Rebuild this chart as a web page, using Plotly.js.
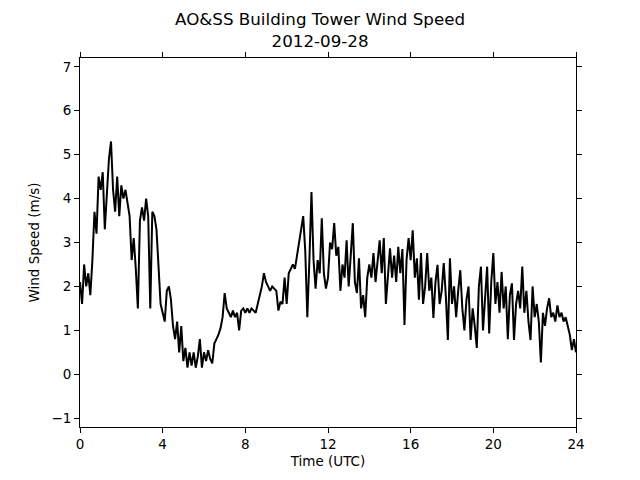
<!DOCTYPE html>
<html>
<head>
<meta charset="utf-8">
<script src="https://cdn.plot.ly/plotly-3.0.1.min.js"></script>
<style>html,body{margin:0;padding:0;background:#fff;}#chart{width:640px;height:480px;}</style>
</head>
<body>
<div id="chart"></div>
<script>
const timeStepHours = 0.1;
const windSpeed = [
  // hour 0
  2.1, 1.6, 2.5, 2.0, 2.3, 1.8, 2.6, 3.7, 3.2, 4.5,
  // hour 1
  4.2, 4.6, 3.3, 4.0, 4.9, 5.3, 4.2, 3.7, 4.5, 3.6,
  // hour 2
  4.3, 4.0, 4.2, 3.9, 3.6, 2.6, 3.1, 2.4, 1.5, 3.5,
  // hour 3
  3.8, 3.5, 4.0, 3.6, 1.5, 3.7, 3.6, 3.3, 2.5, 1.6,
  // hour 4
  1.4, 1.2, 1.9, 2.0, 1.7, 1.1, 0.8, 1.2, 0.5, 1.1,
  // hour 5
  0.3, 0.6, 0.15, 0.5, 0.2, 0.5, 0.15, 0.4, 0.8, 0.15,
  // hour 6
  0.5, 0.3, 0.55, 0.35, 0.25, 0.7, 0.8, 0.9, 1.05, 1.3,
  // hour 7
  1.85, 1.5, 1.4, 1.3, 1.45, 1.3, 1.4, 1.0, 1.45, 1.5,
  // hour 8
  1.4, 1.5, 1.4, 1.5, 1.45, 1.4, 1.6, 1.8, 2.0, 2.3,
  // hour 9
  2.1, 2.0, 1.9, 2.0, 1.95, 1.9, 1.45, 1.65, 1.6, 2.2,
  // hour 10
  1.6, 2.3, 2.4, 2.5, 2.4, 2.7, 2.9, 3.3, 3.6, 2.8,
  // hour 11
  1.3, 2.6, 4.15, 2.6, 1.95, 2.6, 2.3, 3.55, 2.3, 1.95,
  // hour 12
  2.2, 3.0, 2.85, 3.44, 2.7, 2.9, 1.9, 2.5, 2.2, 3.05,
  // hour 13
  2.0, 2.7, 3.44, 2.1, 1.85, 2.64, 1.5, 1.8, 1.3, 2.2,
  // hour 14
  2.5, 2.2, 2.76, 2.1, 2.6, 3.05, 2.3, 3.1, 1.6, 2.3,
  // hour 15
  2.87, 2.2, 2.7, 2.1, 2.9, 2.3, 2.85, 1.12, 2.6, 3.1,
  // hour 16
  2.6, 3.28, 2.2, 2.64, 1.7, 2.76, 1.6, 2.0, 2.76, 1.9,
  // hour 17
  2.2, 1.28, 2.1, 2.49, 1.6, 1.9, 2.53, 1.8, 0.78, 2.64,
  // hour 18
  1.6, 2.0, 1.3, 1.9, 2.37, 1.5, 1.0, 1.7, 2.0, 0.78,
  // hour 19
  1.5, 1.1, 0.6, 2.0, 2.45, 1.0, 1.8, 2.45, 0.93, 2.1,
  // hour 20
  2.76, 1.6, 2.1, 1.4, 2.33, 1.5, 2.0, 0.8, 1.8, 2.07,
  // hour 21
  0.78, 1.6, 1.9, 1.5, 2.45, 1.4, 1.9, 1.2, 0.78, 2.0,
  // hour 22
  1.3, 1.6, 1.2, 0.27, 1.4, 1.1, 1.5, 1.73, 1.3, 1.4,
  // hour 23
  1.2, 1.57, 1.3, 1.4, 1.2, 1.3, 1.1, 0.9, 0.55, 0.8,
  // 24
  0.5
];
const timeHours = windSpeed.map((_, i) => +(i * timeStepHours).toFixed(2));

const xTickVals = [0, 4, 8, 12, 16, 20, 24];
const yTickVals = [-1, 0, 1, 2, 3, 4, 5, 6, 7];

const font = {family: 'DejaVu Sans, sans-serif', size: 13.5, color: '#000'};

const axisCommon = {
  showgrid: false, zeroline: false, showline: true, linecolor: '#000', linewidth: 1,
  mirror: 'ticks', ticks: 'outside', ticklen: 5, tickwidth: 1, tickcolor: '#000',
  tickfont: font
};

Plotly.newPlot('chart', [{
  x: timeHours, y: windSpeed, type: 'scatter', mode: 'lines',
  line: {color: '#000', width: 2}, hoverinfo: 'skip'
}], {
  width: 640, height: 480,
  margin: {l: 80, r: 64, t: 58, b: 53},
  paper_bgcolor: '#fff', plot_bgcolor: '#fff',
  font: font,
  showlegend: false,
  title: {
    text: 'AO&SS Building Tower Wind Speed<br>2012-09-28',
    font: {family: 'DejaVu Sans, sans-serif', size: 16.7, color: '#000'},
    xref: 'paper', x: 0.484, xanchor: 'center', yref: 'container', y: 0.948, yanchor: 'top'
  },
  xaxis: Object.assign({}, axisCommon, {
    range: [0, 24], tickvals: xTickVals, ticktext: xTickVals.map(String),
    title: {text: 'Time (UTC)', font: font, standoff: 5}
  }),
  yaxis: Object.assign({}, axisCommon, {
    range: [-1.2, 7.2], tickvals: yTickVals, ticktext: yTickVals.map(v => v < 0 ? '\u2212' + Math.abs(v) : String(v)),
    title: {text: 'Wind Speed (m/s)', font: font, standoff: 8}
  })
}, {displayModeBar: false, staticPlot: true});
</script>
</body>
</html>
